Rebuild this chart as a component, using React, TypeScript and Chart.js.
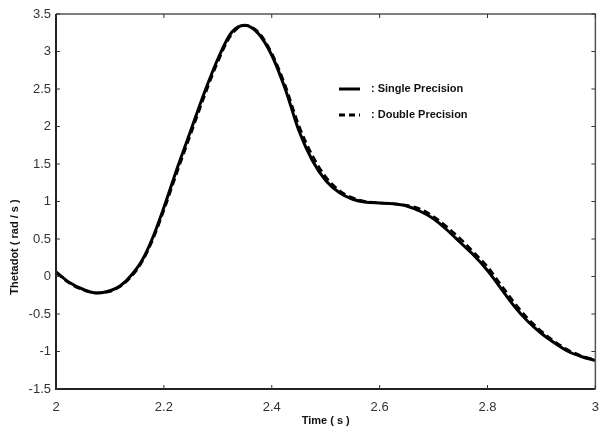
import React, { useEffect, useRef } from "react";
import { Chart, registerables } from "chart.js";
Chart.register(...registerables);

const times = [2.0, 2.025, 2.05, 2.075, 2.1, 2.12, 2.14, 2.16, 2.18, 2.2, 2.225, 2.25, 2.275, 2.3, 2.325, 2.35, 2.375, 2.4, 2.425, 2.45, 2.475, 2.5, 2.525, 2.55, 2.575, 2.6, 2.625, 2.65, 2.675, 2.7, 2.725, 2.75, 2.775, 2.8, 2.825, 2.85, 2.875, 2.9, 2.925, 2.95, 2.975, 3.0];
const singlePrecision = [0.06, -0.08, -0.17, -0.22, -0.19, -0.12, 0.02, 0.22, 0.53, 0.92, 1.45, 1.95, 2.45, 2.9, 3.25, 3.35, 3.24, 2.95, 2.5, 1.95, 1.55, 1.28, 1.12, 1.03, 0.99, 0.98, 0.97, 0.94, 0.87, 0.77, 0.62, 0.45, 0.28, 0.08, -0.16, -0.4, -0.6, -0.76, -0.89, -1.0, -1.07, -1.12];
const doublePrecision = [0.05, -0.09, -0.18, -0.22, -0.2, -0.13, 0.0, 0.2, 0.5, 0.88, 1.4, 1.9, 2.4, 2.86, 3.22, 3.35, 3.26, 2.98, 2.55, 2.02, 1.62, 1.33, 1.15, 1.05, 1.0, 0.98, 0.97, 0.95, 0.9, 0.8, 0.66, 0.5, 0.32, 0.13, -0.11, -0.35, -0.56, -0.73, -0.87, -0.98, -1.06, -1.11];
const xTicks = [2, 2.2, 2.4, 2.6, 2.8, 3];
const yTicks = [-1.5, -1, -0.5, 0, 0.5, 1, 1.5, 2, 2.5, 3, 3.5];
const xTitle = "Time ( s )";
const yTitle = "Thetadot ( rad / s )";
const legendLabels = [": Single Precision", ": Double Precision"];

const fmt = (v: number) => String(Number(v.toFixed(2)));

const decorPlugin = {
  id: "decor",
  afterDraw(chart: any) {
    const { ctx, chartArea } = chart;
    const { left, right, top, bottom } = chartArea;
    const xs = chart.scales.x;
    const ys = chart.scales.y;
    ctx.save();
    // box
    ctx.strokeStyle = "#555";
    ctx.lineWidth = 1.5;
    ctx.beginPath();
    ctx.moveTo(left, top);
    ctx.lineTo(right, top);
    ctx.lineTo(right, bottom);
    ctx.stroke();
    ctx.strokeStyle = "#222";
    ctx.lineWidth = 2;
    ctx.beginPath();
    ctx.moveTo(left, top);
    ctx.lineTo(left, bottom);
    ctx.lineTo(right, bottom);
    ctx.stroke();
    // inward ticks
    ctx.strokeStyle = "#333";
    ctx.lineWidth = 1;
    const tl = 4;
    xTicks.forEach((v) => {
      const px = xs.getPixelForValue(v);
      ctx.beginPath();
      ctx.moveTo(px, bottom);
      ctx.lineTo(px, bottom - tl);
      ctx.moveTo(px, top);
      ctx.lineTo(px, top + tl);
      ctx.stroke();
    });
    yTicks.forEach((v) => {
      const py = ys.getPixelForValue(v);
      ctx.beginPath();
      ctx.moveTo(left, py);
      ctx.lineTo(left + tl, py);
      ctx.moveTo(right, py);
      ctx.lineTo(right - tl, py);
      ctx.stroke();
    });
    // axis titles
    ctx.fillStyle = "#111";
    ctx.font = "bold 11px 'Liberation Sans', Arial, sans-serif";
    ctx.textAlign = "center";
    ctx.textBaseline = "middle";
    ctx.fillText(xTitle, (left + right) / 2, 421);
    ctx.save();
    ctx.translate(15, 247);
    ctx.rotate(-Math.PI / 2);
    ctx.fillText(yTitle, 0, 0);
    ctx.restore();
    // legend
    ctx.textAlign = "left";
    ctx.strokeStyle = "#000";
    ctx.lineWidth = 3;
    ctx.beginPath();
    ctx.moveTo(339, 89);
    ctx.lineTo(360, 89);
    ctx.stroke();
    ctx.setLineDash([6, 4]);
    ctx.beginPath();
    ctx.moveTo(339, 115);
    ctx.lineTo(360, 115);
    ctx.stroke();
    ctx.setLineDash([]);
    ctx.fillText(legendLabels[0], 371, 89);
    ctx.fillText(legendLabels[1], 371, 115);
    ctx.restore();
  },
};

export default function App() {
  const ref = useRef<HTMLCanvasElement>(null);
  useEffect(() => {
    if (!ref.current) return;
    const chart = new Chart(ref.current, {
      type: "line",
      data: {
        datasets: [
          {
            label: "Double Precision",
            data: times.map((t, i) => ({ x: t, y: doublePrecision[i] })),
            borderColor: "#000",
            borderWidth: 2.5,
            borderDash: [7, 4],
            pointRadius: 0,
            tension: 0.4,
            cubicInterpolationMode: "monotone",
          },
          {
            label: "Single Precision",
            data: times.map((t, i) => ({ x: t, y: singlePrecision[i] })),
            borderColor: "#000",
            borderWidth: 3,
            pointRadius: 0,
            cubicInterpolationMode: "monotone",
          },
        ],
      },
      options: {
        responsive: false,
        animation: false,
        layout: { padding: { top: 14, right: 6, left: 0, bottom: 0 } },
        plugins: { legend: { display: false }, tooltip: { enabled: false } },
        scales: {
          x: {
            type: "linear",
            min: 2,
            max: 3,
            afterBuildTicks: (s: any) => {
              s.ticks = xTicks.map((v) => ({ value: v }));
            },
            afterFit: (s: any) => {
              s.height = 46;
            },
            grid: { display: false, drawTicks: false },
            border: { display: false },
            ticks: {
              padding: 11,
              maxRotation: 0,
              color: "#333",
              font: { family: "'Liberation Sans', Arial, sans-serif", size: 13 },
              callback: (v: any) => fmt(Number(v)),
            },
          },
          y: {
            type: "linear",
            min: -1.5,
            max: 3.5,
            afterBuildTicks: (s: any) => {
              s.ticks = yTicks.map((v) => ({ value: v }));
            },
            afterFit: (s: any) => {
              s.width = 56;
            },
            grid: { display: false, drawTicks: false },
            border: { display: false },
            ticks: {
              padding: 5,
              color: "#333",
              font: { family: "'Liberation Sans', Arial, sans-serif", size: 13 },
              callback: (v: any) => fmt(Number(v)),
            },
          },
        },
      },
      plugins: [decorPlugin],
    } as any);
    return () => chart.destroy();
  }, []);
  return (
    <div style={{ position: "absolute", left: 0, top: 0, width: 610, height: 435, background: "#fff" }}>
      <canvas ref={ref} width={610} height={435} style={{ width: 610, height: 435 }} />
    </div>
  );
}
